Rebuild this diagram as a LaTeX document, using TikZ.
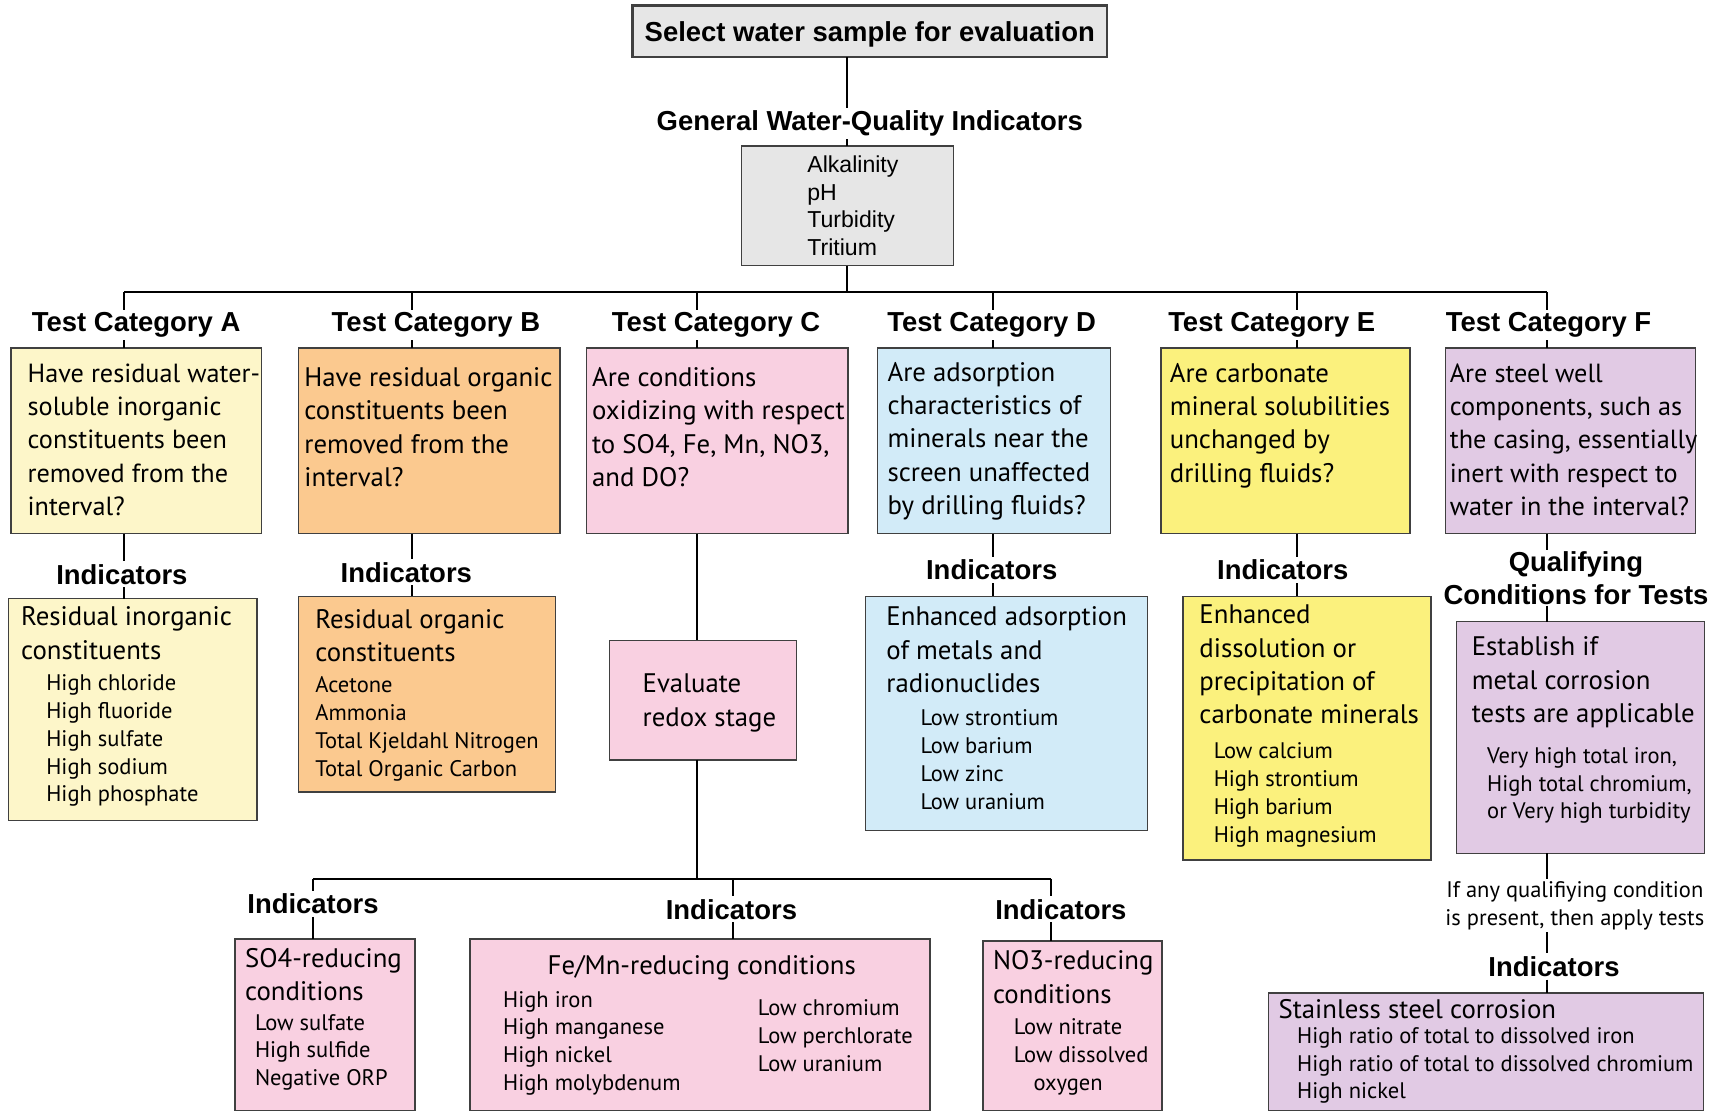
\documentclass[tikz,border=0pt]{standalone}
\usepackage{fontspec}
\setmainfont{PT Sans}
\newfontfamily\hdrfam{Liberation Sans}
\newfontfamily\bodyfam{PT Sans}

\definecolor{grayfill}{HTML}{E6E6E6}
\definecolor{yelA}{HTML}{FDF6C9}
\definecolor{orgB}{HTML}{FBC98F}
\definecolor{pinkC}{HTML}{F9D0E1}
\definecolor{blueD}{HTML}{D2EBF8}
\definecolor{yelE}{HTML}{FBF17D}
\definecolor{lavF}{HTML}{E1CAE4}
\definecolor{edge}{HTML}{404040}

% one text line inside a stacked block
\newcommand\Ln[1]{\hbox{#1}}
% centred stack of lines
\newcommand\Ctr[1]{\vtop{\halign{\hfil##\hfil\cr#1\crcr}}}
% box from corner (x1,y1) to corner (x2,y2): name, fill, x1, y1, x2, y2
\newcommand\mkbox[6]{%
  \node[bx,fill=#2,minimum width={#5-#3},minimum height={#6-#4}] (#1)
    at ({(#3+#5)/2},{(#4+#6)/2}) {};}

\begin{document}
\begin{tikzpicture}[x=1pt,y=-1pt,
  bx/.style={draw=edge,line width=1.3pt,inner sep=0pt,outer sep=0pt,rectangle},
  hdr/.style={font=\hdrfam\bfseries\fontsize{25}{30}\selectfont,inner sep=2.5pt,anchor=base},
  qtxt/.style={font=\bodyfam\fontsize{24.4}{30.4}\selectfont,inner sep=0pt,anchor=base west},
  qtight/.style={qtxt,font=\bodyfam\fontsize{23.9}{30.4}\selectfont},
  itxt/.style={font=\bodyfam\fontsize{20.5}{25.3}\selectfont,inner sep=0pt,anchor=base west},
  gtxt/.style={font=\hdrfam\fontsize{21}{25.3}\selectfont,inner sep=0pt,anchor=base west},
  wire/.style={line width=1.8pt,draw=black}]

\fill[white] (0,0) rectangle (1568,1013);
\useasboundingbox (0,0) rectangle (1568,1013);

% ---------- top of the tree ----------
\node[bx,fill=grayfill,line width=2pt,minimum width=432,minimum height=47,text depth=0pt,
      font=\hdrfam\bfseries\fontsize{25}{30}\selectfont] (sel) at (792,28.5)
      {Select water sample for evaluation};
\node[hdr] (gwq) at (792,119) {General Water-Quality Indicators};
\mkbox{gen}{grayfill}{675}{133}{868}{242}
\node[gtxt] (gent) at (735,157) {\vtop{\Ln{Alkalinity}\Ln{pH}\Ln{Turbidity}\Ln{Tritium}}};

\coordinate (bus) at (771.5,266);
\coordinate (dA) at (113,266);
\coordinate (dB) at (375,266);
\coordinate (dC) at (635,266);
\coordinate (dD) at (904,266);
\coordinate (dE) at (1181,266);
\coordinate (dF) at (1409,266);

% ---------- category titles ----------
\node[hdr] (tA) at (124,302) {Test Category A};
\node[hdr] (tB) at (397,302) {Test Category B};
\node[hdr] (tC) at (652,302) {Test Category C};
\node[hdr] (tD) at (903,302) {Test Category D};
\node[hdr] (tE) at (1158,302) {Test Category E};
\node[hdr] (tF) at (1410,302) {Test Category F};

% ---------- question boxes ----------
\mkbox{qA}{yelA}{10}{317}{238}{486}
\mkbox{qB}{orgB}{272}{317}{510}{486}
\mkbox{qC}{pinkC}{534}{317}{772}{486}
\mkbox{qD}{blueD}{799}{317}{1011}{486}
\mkbox{qE}{yelE}{1057}{317}{1284}{486}
\mkbox{qF}{lavF}{1316}{317}{1544}{486}

\node[qtight] (qAt) at (25,348) {\vtop{\Ln{Have residual water-}\Ln{soluble inorganic}\Ln{constituents been}\Ln{removed from the}\Ln{interval?}}};
\node[qtxt] (qBt) at (277,352) {\vtop{\Ln{Have residual organic}\Ln{constituents been}\Ln{removed from the}\Ln{interval?}}};
\node[qtxt] (qCt) at (539,352) {\vtop{\Ln{Are conditions}\Ln{oxidizing with respect}\Ln{to SO4, Fe, Mn, NO3,}\Ln{and DO?}}};
\node[qtxt] (qDt) at (808,347) {\vtop{\Ln{Are adsorption}\Ln{characteristics of}\Ln{minerals near the}\Ln{screen unaffected}\Ln{by drilling fluids?}}};
\node[qtxt] (qEt) at (1065,348) {\vtop{\Ln{Are carbonate}\Ln{mineral solubilities}\Ln{unchanged by}\Ln{drilling fluids?}}};
\node[qtight] (qFt) at (1320,348) {\vtop{\Ln{Are steel well}\Ln{components, such as}\Ln{the casing, essentially}\Ln{inert with respect to}\Ln{water in the interval?}}};

% ---------- indicator labels ----------
\node[hdr] (indA) at (111,532) {Indicators};
\node[hdr] (indB) at (370,530) {Indicators};
\node[hdr] (indD) at (903,528) {Indicators};
\node[hdr] (indE) at (1168,528) {Indicators};
\node[hdr,inner sep=1pt] (qual) at (1435,520) {\Ctr{Qualifying\cr Conditions for Tests}};

% ---------- indicator boxes ----------
\mkbox{iA}{yelA}{8}{545}{234}{747}
\mkbox{iB}{orgB}{272}{543}{506}{721}
\mkbox{redox}{pinkC}{555}{583}{725}{692}
\mkbox{iD}{blueD}{788}{543}{1045}{756}
\mkbox{iE}{yelE}{1077}{543}{1303}{783}
\mkbox{iF}{lavF}{1326}{566}{1552}{777}

\node[qtxt] (iAh) at (19,570) {\vtop{\Ln{Residual inorganic}\Ln{constituents}}};
\node[itxt] (iAi) at (42,629) {\vtop{\Ln{High chloride}\Ln{High fluoride}\Ln{High sulfate}\Ln{High sodium}\Ln{High phosphate}}};
\node[qtxt] (iBh) at (287,572) {\vtop{\Ln{Residual organic}\Ln{constituents}}};
\node[itxt] (iBi) at (287,631) {\vtop{\Ln{Acetone}\Ln{Ammonia}\Ln{Total Kjeldahl Nitrogen}\Ln{Total Organic Carbon}}};
\node[qtxt] (redoxt) at (585,631) {\vtop{\Ln{Evaluate}\Ln{redox stage}}};
\node[qtxt] (iDh) at (807,570) {\vtop{\Ln{Enhanced adsorption}\Ln{of metals and}\Ln{radionuclides}}};
\node[itxt] (iDi) at (838,661) {\vtop{\Ln{Low strontium}\Ln{Low barium}\Ln{Low zinc}\Ln{Low uranium}}};
\node[qtxt] (iEh) at (1092,568) {\vtop{\Ln{Enhanced}\Ln{dissolution or}\Ln{precipitation of}\Ln{carbonate minerals}}};
\node[itxt] (iEi) at (1105,691) {\vtop{\Ln{Low calcium}\Ln{High strontium}\Ln{High barium}\Ln{High magnesium}}};
\node[qtxt] (iFh) at (1340,597) {\vtop{\Ln{Establish if}\Ln{metal corrosion}\Ln{tests are applicable}}};
\node[itxt] (iFi) at (1354,695) {\vtop{\Ln{Very high total iron,}\Ln{High total chromium,}\Ln{or Very high turbidity}}};

% ---------- redox branches ----------
\coordinate (bus2) at (635,800);
\coordinate (eS) at (285,800);
\coordinate (eM) at (667,800);
\coordinate (eN) at (957,800);

\node[hdr] (indS) at (285,832) {Indicators};
\node[hdr] (indM) at (666,837) {Indicators};
\node[hdr] (indN) at (966,837) {Indicators};

\mkbox{bS}{pinkC}{214}{855}{378}{1011}
\mkbox{bM}{pinkC}{428}{855}{847}{1011}
\mkbox{bN}{pinkC}{895}{857}{1058}{1011}

\node[qtxt] (bSh) at (223,881) {\vtop{\Ln{SO4-reducing}\Ln{conditions}}};
\node[itxt] (bSi) at (232,938) {\vtop{\Ln{Low sulfate}\Ln{High sulfide}\Ln{Negative ORP}}};
\node[qtxt,anchor=base] (bMh) at (639,887) {Fe/Mn-reducing conditions};
\node[itxt] (bMl) at (458,917) {\vtop{\Ln{High iron}\Ln{High manganese}\Ln{High nickel}\Ln{High molybdenum}}};
\node[itxt] (bMr) at (690,925) {\vtop{\Ln{Low chromium}\Ln{Low perchlorate}\Ln{Low uranium}}};
\node[qtxt] (bNh) at (904,883) {\vtop{\Ln{NO3-reducing}\Ln{conditions}}};
\node[itxt] (bNi) at (923,942) {\vtop{\Ln{Low nitrate}\Ln{Low dissolved}\Ln{\hspace*{18pt}oxygen}}};

% ---------- corrosion branch ----------
\node[itxt,anchor=base,inner sep=2pt] (ifany) at (1434,817)
  {\Ctr{If any qualifiying condition\cr is present, then apply tests}};
\node[hdr] (indF) at (1415,889) {Indicators};
\mkbox{bF}{lavF}{1155}{904}{1551}{1011}
\node[qtxt] (bFh) at (1164,927) {Stainless steel corrosion};
\node[itxt] (bFi) at (1181,950) {\vtop{\Ln{High ratio of total to dissolved iron}\Ln{High ratio of total to dissolved chromium}\Ln{High nickel}}};

% ---------- connectors ----------
\draw[wire] (sel.south -| gen.north) -- (gwq.north -| gen.north);
\draw[wire] (gwq.south -| gen.north) -- (gen.north);
\draw[wire] (gen.south) -- (bus);
\draw[wire] (dA) -- (dF);
\foreach \c in {A,B,C,D,E,F}{
  \draw[wire] (d\c) -- (d\c |- t\c.north);
  \draw[wire] (d\c |- t\c.south) -- (d\c |- q\c.north);
}
\foreach \c in {A,B,D,E}{
  \draw[wire] (q\c.south -| d\c) -- (d\c |- ind\c.north);
  \draw[wire] (d\c |- ind\c.south) -- (d\c |- i\c.north);
}
\draw[wire] (qC.south -| dC) -- (dC |- redox.north);
\draw[wire] (redox.south -| dC) -- (bus2);
\draw[wire] (eS) -- (eN);
\draw[wire] (eS) -- (eS |- indS.north);
\draw[wire] (eS |- indS.south) -- (eS |- bS.north);
\draw[wire] (eM) -- (eM |- indM.north);
\draw[wire] (eM |- indM.south) -- (eM |- bM.north);
\draw[wire] (eN) -- (eN |- indN.north);
\draw[wire] (eN |- indN.south) -- (eN |- bN.north);

\draw[wire] (qF.south -| dF) -- (dF |- qual.north);
\draw[wire] (dF |- qual.south) -- (dF |- iF.north);
\draw[wire] (iF.south -| dF) -- (dF |- ifany.north);
\draw[wire] (dF |- ifany.south) -- (dF |- indF.north);
\draw[wire] (dF |- indF.south) -- (dF |- bF.north);
\end{tikzpicture}
\end{document}
